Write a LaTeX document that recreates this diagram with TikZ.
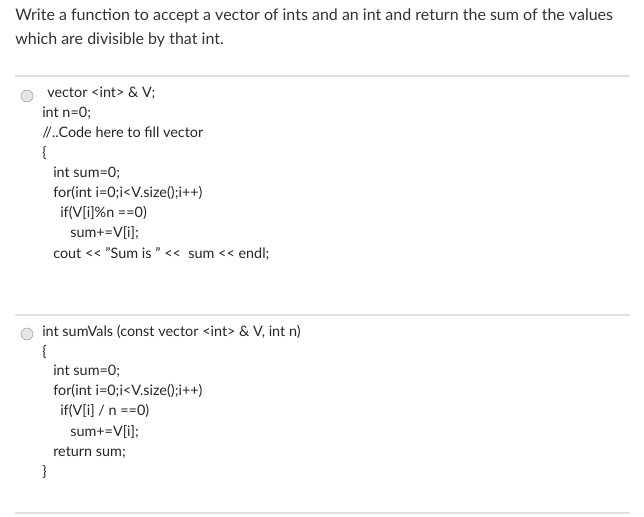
\documentclass[tikz,border=0pt]{standalone}
\usepackage{fontspec}
\setmainfont{Lato}
\newcommand{\ltlt}{<{}<}
\newcommand{\dq}{\symbol{34}}
\begin{document}
\begin{tikzpicture}[x=0.75pt,y=-0.75pt,
  code/.style={anchor=base west,inner sep=0pt,font=\fontsize{10.8}{12}\selectfont,text=black!85},
  title/.style={anchor=base west,inner sep=0pt,font=\fontsize{12}{14}\selectfont,text=black!80},
  radio/.style={circle,draw=black!40,fill=black!10,minimum size=9pt,inner sep=0pt},
  sep/.style={draw=black!12,line width=0.8pt}]
\useasboundingbox (0,0) rectangle (644,517);
\node[title] (t1) at (15,21) {Write a function to accept a vector of ints and an int and return the sum of the values};
\node[title] (t2) at (15,45) {which are divisible by that int.};
\coordinate (s1a) at (15,76); \coordinate (s1b) at (630,76);
\draw[sep] (s1a) -- (s1b);
\node[radio] (r1) at (27,96) {};
\node[code] (a1) at (47,98) {vector <int> \& V;};
\node[code] (a2) at (42,118) {int n=0;};
\node[code] (a3) at (42,138) {//..Code here to fill vector};
\node[code] (a4) at (42,158) {\{};
\node[code] (a5) at (53,178) {int sum=0;};
\node[code] (a6) at (53,198) {for(int i=0;i<V.size();i++)};
\node[code] (a7) at (60,218) {if(V[i]\%n ==0)};
\node[code] (a8) at (70,238) {sum+=V[i];};
\node[code] (a9) at (53,258) {cout \ltlt{} \dq{}Sum is \dq{} \ltlt\ \ sum \ltlt{} endl;};
\coordinate (s2a) at (15,315); \coordinate (s2b) at (630,315);
\draw[sep] (s2a) -- (s2b);
\node[radio] (r2) at (27,334) {};
\node[code] (b1) at (42,336) {int sumVals (const vector <int> \& V, int n)};
\node[code] (b2) at (42,356) {\{};
\node[code] (b3) at (53,376) {int sum=0;};
\node[code] (b4) at (53,396) {for(int i=0;i<V.size();i++)};
\node[code] (b5) at (60,416) {if(V[i] / n ==0)};
\node[code] (b6) at (70,436) {sum+=V[i];};
\node[code] (b7) at (53,456) {return sum;};
\node[code] (b8) at (42,476) {\}};
\coordinate (s3a) at (15,513); \coordinate (s3b) at (630,513);
\draw[sep] (s3a) -- (s3b);
\end{tikzpicture}
\end{document}
